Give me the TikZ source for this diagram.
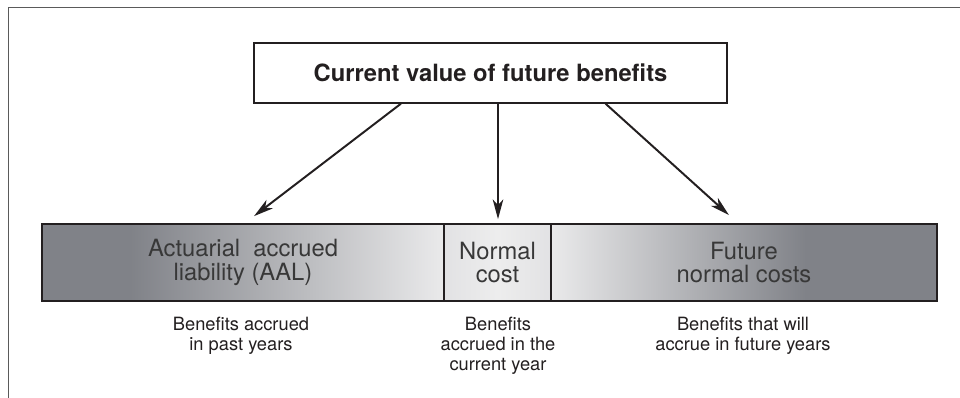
\documentclass[tikz,border=0pt]{standalone}
\usepackage{fontspec}
\setmainfont{TeX Gyre Heros}
\usetikzlibrary{arrows.meta}
\definecolor{bardark}{RGB}{128,130,136}
\definecolor{barlight}{RGB}{234,234,235}
\definecolor{barmid}{RGB}{226,226,228}
\definecolor{inktext}{RGB}{35,31,32}
\definecolor{frameline}{RGB}{90,90,90}
\pgfdeclarehorizontalshading{aalshade}{100bp}{color(0bp)=(bardark); color(36bp)=(bardark); color(75bp)=(barlight); color(100bp)=(barlight)}
\pgfdeclarehorizontalshading{fncshade}{100bp}{color(0bp)=(barlight); color(25bp)=(barlight); color(58bp)=(bardark); color(100bp)=(bardark)}
\pgfdeclarehorizontalshading{ncshade}{100bp}{color(0bp)=(barmid); color(25bp)=(barmid); color(50bp)=(white!93!black); color(75bp)=(barmid); color(100bp)=(barmid)}

\begin{document}
\begin{tikzpicture}[x = 0.025cm, y = 0.025cm,
        seg/.style = {draw = inktext, line width = 1.2pt, shade, minimum height = 1.925cm, inner sep = 0pt,
            align = center, text = black!78, font = \fontsize{16.9}{17}\selectfont},
        note/.style = {inner sep = 0pt, anchor = north, align = center, text = inktext,
            font = \fontsize{13}{14.2}\selectfont},
        arr/.style = {draw = inktext, line width = 1.4pt, -{Stealth[length = 14pt, width = 7.5pt, inset = 4pt]}}]
    \useasboundingbox (0,0) rectangle (960,398);
    \draw[frameline, line width = 1.3pt] (8.5,0) -- (8.5,390.5) -- (960,390.5);
    \node[draw = inktext, line width = 0.9pt, minimum width = 11.825cm, minimum height = 1.5cm,
        text = inktext, font = \bfseries\fontsize{16.9}{17}\selectfont] (cvfb) at (490.5,325) {Current value of future benefits};
    \begin{scope}[every node/.append style = {seg}]
        \node[shading = aalshade, minimum width = 10.05cm] (aal) at (243,135.5) {Actuarial\ \ accrued\\liability (AAL)};
        \node[shading = ncshade, minimum width = 2.675cm] (nc) at (497.5,135.5) {Normal\\cost};
        \node[shading = fncshade, minimum width = 9.65cm] (fnc) at (744,135.5) {Future\\normal costs};
    \end{scope}
    \begin{scope}[every node/.append style = {note}]
        \node (aalnote) at (241,81) {Benefits accrued\\in past years};
        \node (ncnote) at (498,81) {Benefits\\accrued in the\\current year};
        \node (fncnote) at (743,81) {Benefits that will\\accrue in future years};
    \end{scope}
    \draw[arr] ([shift = {(-89.5,0)}]cvfb.south) -- ([shift = {(11,7)}]aal.north);
    \draw[arr] ([shift = {(7.5,0)}]cvfb.south) -- ([shift = {(0.5,4)}]nc.north);
    \draw[arr] ([shift = {(115,0)}]cvfb.south) -- ([shift = {(-15,8)}]fnc.north);
\end{tikzpicture}
\end{document}
